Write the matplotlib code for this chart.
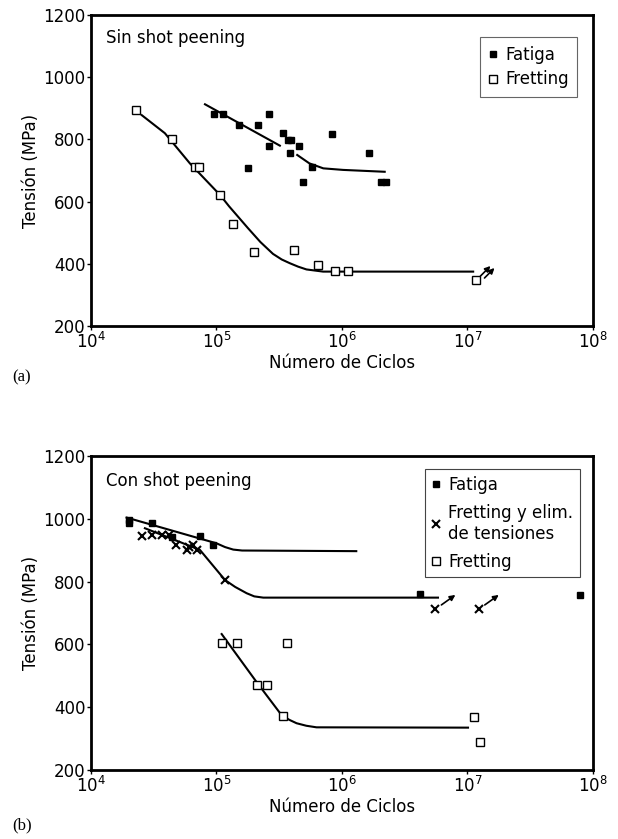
import matplotlib
matplotlib.use('Agg')
import matplotlib.pyplot as plt
from matplotlib.transforms import offset_copy

plt.rcParams['font.family'] = ['DejaVu Sans']
plt.rcParams['mathtext.fontset'] = 'custom'
plt.rcParams['mathtext.rm'] = 'DejaVu Sans'

# (a) Sin shot peening
a_fatiga_n = [9.6e4, 1.12e5, 1.51e5, 2.16e5, 2.61e5, 2.61e5, 3.4e5, 3.72e5, 3.96e5,
              4.56e5, 3.84e5, 1.77e5, 5.82e5, 4.93e5, 8.34e5, 1.63e6, 2.04e6, 2.23e6]
a_fatiga_s = [882, 882, 846, 846, 882, 780, 820, 798, 798,
              780, 755, 709, 712, 663, 817, 756, 664, 664]
a_frett_n = [2.27e4, 4.39e4, 6.78e4, 7.28e4, 1.07e5, 1.35e5, 2.0e5, 4.13e5, 6.5e5,
             8.77e5, 1.11e6, 1.18e7]
a_frett_s = [895, 801, 712, 712, 621, 528, 439, 443, 395, 377, 377, 348]
a_runout_n = [1.18e7]
a_runout_s = [348]

# fitted curves
a_fit_fat1_n = [8.1e4, 3.2e5]
a_fit_fat1_s = [913, 780]
a_fit_fat2_n = [4.4e5, 5.5e5, 7.1e5, 1.02e6, 2.19e6]
a_fit_fat2_s = [750, 723, 707, 702, 696]
a_fit_frett_n = [2.54e4, 3.88e4, 6.14e4, 1.07e5, 1.26e5, 1.78e5, 2.24e5, 2.82e5,
                 3.31e5, 3.84e5, 4.47e5, 5.21e5, 7.08e5, 1.11e7]
a_fit_frett_s = [878, 820, 723, 621, 585, 515, 470, 432, 414, 402, 391, 382, 375, 375]

# (b) Con shot peening
b_fatiga_n = [2.01e4, 2.01e4, 3.04e4, 4.39e4, 7.38e4, 9.31e4, 4.22e6, 7.93e7]
b_fatiga_s = [996, 987, 988, 943, 945, 917, 760, 756]
b_elim_n = [2.54e4, 3.04e4, 3.66e4, 4.18e4, 4.75e4, 5.78e4, 6.07e4, 6.53e4, 7.03e4,
            1.17e5, 5.55e6, 1.23e7]
b_elim_s = [945, 948, 948, 948, 917, 901, 911, 917, 901, 805, 713, 713]
b_frett_n = [1.1e5, 1.45e5, 3.68e5, 2.12e5, 2.52e5, 3.36e5, 1.12e7, 1.27e7]
b_frett_s = [603, 603, 603, 471, 471, 372, 370, 290]
b_runout_n = [5.55e6, 1.23e7]
b_runout_s = [713, 713]

b_fit_fat_n = [1.92e4, 1.0e5, 1.17e5, 1.36e5, 1.6e5, 1.3e6]
b_fit_fat_s = [1004, 922, 910, 902, 899, 897]
b_fit_elim_n = [2.69e4, 7.38e4, 1.17e5, 1.41e5, 1.74e5, 2.0e5, 2.36e5, 5.82e6]
b_fit_elim_s = [970, 901, 805, 783, 763, 753, 749, 749]
b_fit_frett_n = [1.1e5, 2.08e5, 3.3e5, 3.8e5, 4.35e5, 5.2e5, 6.27e5, 1.01e7]
b_fit_frett_s = [633, 481, 375, 360, 349, 341, 336, 335]

fig = plt.figure(figsize=(6.18, 8.39), dpi=100)
ax1 = fig.add_axes([0.1472, 0.6114, 0.8123, 0.3707])
ax2 = fig.add_axes([0.1472, 0.0822, 0.8123, 0.3743])


def style(ax):
    ax.set_xscale('log')
    ax.set_xlim(1e4, 1e8)
    ax.set_ylim(200, 1200)
    ax.set_yticks([200, 400, 600, 800, 1000, 1200])
    ax.minorticks_off()
    for s in ax.spines.values():
        s.set_linewidth(2)
    ax.tick_params(direction='out', length=3, width=1, labelsize=12, pad=1,
                   top=False, right=False)
    ax.set_xlabel('Número de Ciclos', fontsize=12, labelpad=2)
    ax.set_ylabel('Tensión (MPa)', fontsize=12, labelpad=2)


def arrow(ax, x, y, x0, y0, x1, y1):
    ax.annotate('', xy=(x, y), xycoords=offset_copy(ax.transData, fig=fig, x=x1, y=y1, units='dots'),
                xytext=(x, y), textcoords=offset_copy(ax.transData, fig=fig, x=x0, y=y0, units='dots'),
                arrowprops=dict(arrowstyle='-|>', color='black', lw=1.2,
                                mutation_scale=8, shrinkA=0, shrinkB=0))


# panel (a)
style(ax1)
ax1.plot(a_fit_fat1_n, a_fit_fat1_s, color='black', lw=1.5)
ax1.plot(a_fit_fat2_n, a_fit_fat2_s, color='black', lw=1.5)
ax1.plot(a_fit_frett_n, a_fit_frett_s, color='black', lw=1.5)
ax1.plot(a_fatiga_n, a_fatiga_s, 's', ms=4, color='black', label='Fatiga')
ax1.plot(a_frett_n, a_frett_s, 's', ms=5.5, mfc='white', mec='black', mew=1,
         label='Fretting')
for x, y in zip(a_runout_n, a_runout_s):
    arrow(ax1, x, y, 4, 4, 14, 14)
    arrow(ax1, x, y, 8, 2, 18, 12)
ax1.text(0.03, 0.91, 'Sin shot peening', transform=ax1.transAxes, fontsize=12)
leg1 = ax1.legend(loc='upper right', bbox_to_anchor=(0.985, 0.955), fontsize=12,
                  handlelength=0.6, handletextpad=0.4, borderpad=0.5,
                  labelspacing=0.4, fancybox=False, framealpha=1, edgecolor='#666666')
leg1.get_frame().set_linewidth(0.8)
fig.text(0.02, 0.545, '(a)', fontsize=12, family='Liberation Serif')

# panel (b)
style(ax2)
ax2.plot(b_fit_fat_n, b_fit_fat_s, color='black', lw=1.5)
ax2.plot(b_fit_elim_n, b_fit_elim_s, color='black', lw=1.5)
ax2.plot(b_fit_frett_n, b_fit_frett_s, color='black', lw=1.5)
ax2.plot(b_fatiga_n, b_fatiga_s, 's', ms=4, color='black', label='Fatiga')
ax2.plot(b_elim_n, b_elim_s, 'x', ms=6, mew=1.5, color='black',
         label='Fretting y elim.\nde tensiones')
ax2.plot(b_frett_n, b_frett_s, 's', ms=5.5, mfc='white', mec='black', mew=1,
         label='Fretting')
for x, y in zip(b_runout_n, b_runout_s):
    arrow(ax2, x, y, 6, 4, 20, 14)
ax2.text(0.03, 0.905, 'Con shot peening', transform=ax2.transAxes, fontsize=12)
leg2 = ax2.legend(loc='upper right', bbox_to_anchor=(0.99, 0.985), fontsize=12,
                  handlelength=0.6, handletextpad=0.4, borderpad=0.4,
                  labelspacing=0.6, fancybox=False, framealpha=1, edgecolor='#444444')
leg2.get_frame().set_linewidth(0.8)
fig.text(0.02, 0.012, '(b)', fontsize=12, family='Liberation Serif')

fig.savefig('out.png', dpi=100)
